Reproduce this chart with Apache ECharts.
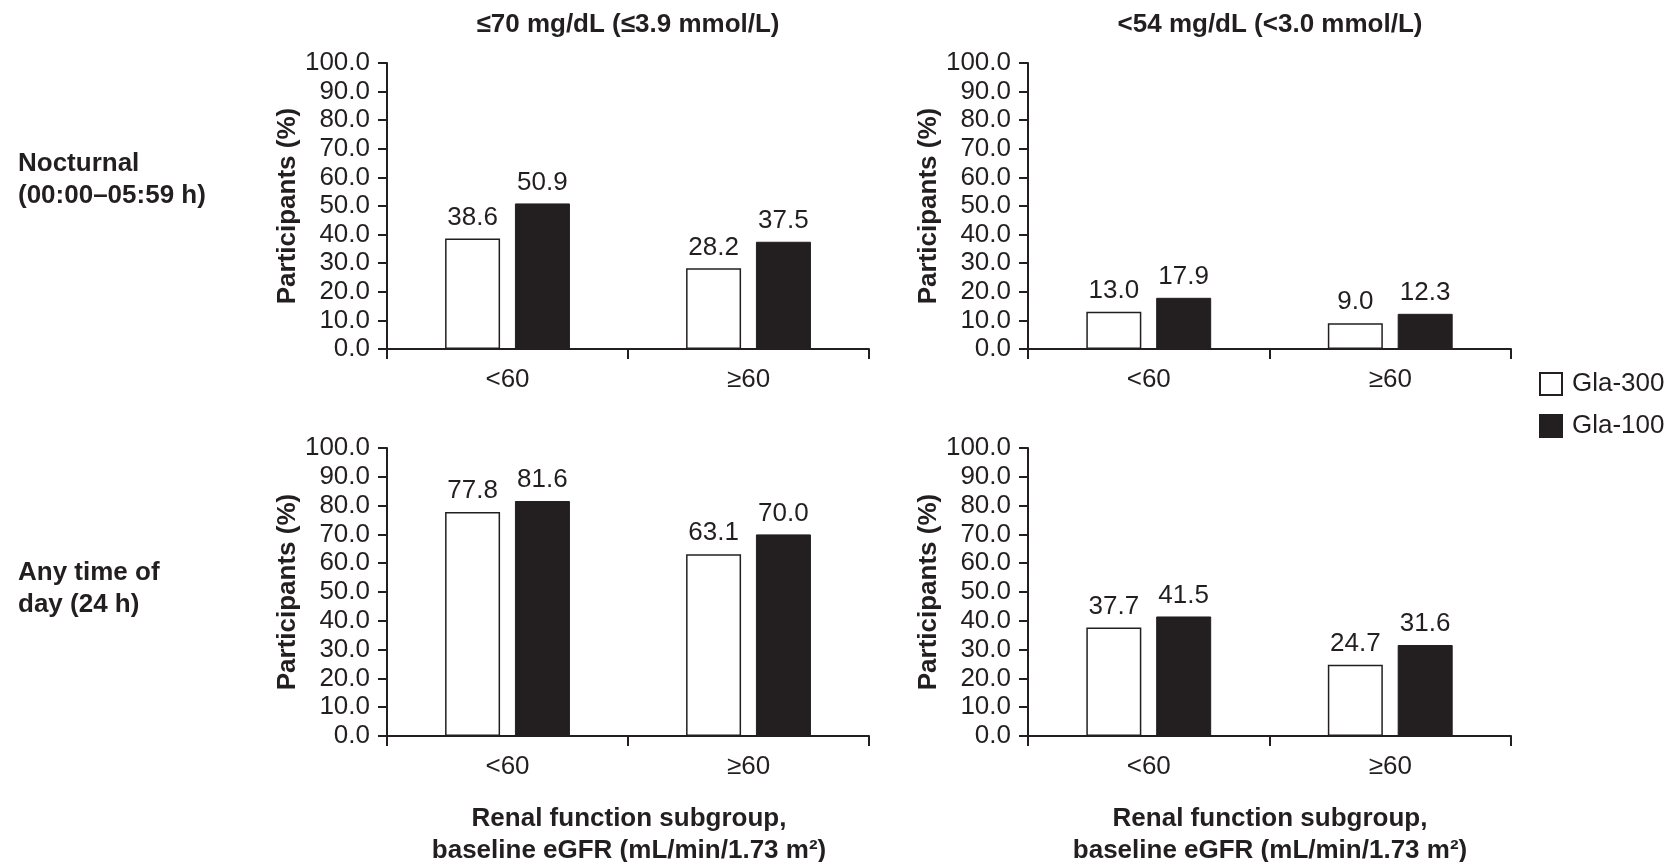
<!DOCTYPE html>
<html>
<head>
<meta charset="utf-8">
<title>Hypoglycaemia by renal function subgroup</title>
<script src="https://cdn.jsdelivr.net/npm/echarts@6/dist/echarts.min.js"></script>
<style>
  html, body { margin: 0; padding: 0; background: #ffffff; }
  #chart { width: 1671px; height: 862px; }
</style>
</head>
<body>
<div id="chart"></div>
<script>
// Renal function subgroups (baseline eGFR)
const categories = ['<60', '≥60'];
const seriesNames = ['Gla-300', 'Gla-100'];

// Nocturnal, ≤70 mg/dL
const nocturnal70Gla300 = [38.6, 28.2];
const nocturnal70Gla100 = [50.9, 37.5];
// Nocturnal, <54 mg/dL
const nocturnal54Gla300 = [13.0, 9.0];
const nocturnal54Gla100 = [17.9, 12.3];
// Any time of day, ≤70 mg/dL
const anytime70Gla300 = [77.8, 63.1];
const anytime70Gla100 = [81.6, 70.0];
// Any time of day, <54 mg/dL
const anytime54Gla300 = [37.7, 24.7];
const anytime54Gla100 = [41.5, 31.6];

const columnTitles = ['≤70 mg/dL (≤3.9 mmol/L)', '<54 mg/dL (<3.0 mmol/L)'];
const rowTitles = ['Nocturnal\n(00:00–05:59 h)', 'Any time of\nday (24 h)'];
const yAxisTitle = 'Participants (%)';
const xAxisTitle = 'Renal function subgroup,\nbaseline eGFR (mL/min/1.73 m²)';

const INK = '#231f20';
const SANS = '"Liberation Sans", Arial, Helvetica, sans-serif';
const NARROW = '"Liberation Sans Narrow", "Arial Narrow", "Liberation Sans", sans-serif';

const panels = [
  { grid: { left: 387, top: 63, width: 482, height: 286 }, data: [nocturnal70Gla300, nocturnal70Gla100], font: SANS },
  { grid: { left: 1028, top: 63, width: 483, height: 286 }, data: [nocturnal54Gla300, nocturnal54Gla100], font: NARROW },
  { grid: { left: 387, top: 448, width: 482, height: 288 }, data: [anytime70Gla300, anytime70Gla100], font: SANS },
  { grid: { left: 1028, top: 448, width: 483, height: 288 }, data: [anytime54Gla300, anytime54Gla100], font: NARROW }
];

const grids = [], xAxes = [], yAxes = [], series = [];
panels.forEach((p, i) => {
  grids.push(Object.assign({ containLabel: false }, p.grid));
  xAxes.push({
    type: 'category', gridIndex: i, data: categories,
    axisLine: { lineStyle: { color: INK, width: 2 } },
    axisTick: { show: true, alignWithLabel: false, length: 10, lineStyle: { color: INK, width: 2 } },
    axisLabel: { color: INK, fontSize: 26, fontFamily: p.font, margin: 18 },
    splitLine: { show: false }
  });
  yAxes.push({
    type: 'value', gridIndex: i, min: 0, max: 100, interval: 10,
    name: yAxisTitle, nameLocation: 'middle', nameRotate: 90, nameGap: 86,
    nameTextStyle: { color: INK, fontSize: 26, fontWeight: 'bold', fontFamily: SANS },
    axisLine: { show: true, lineStyle: { color: INK, width: 2 } },
    axisTick: { show: true, length: 9, lineStyle: { color: INK, width: 2 } },
    axisLabel: { color: INK, fontSize: 26, fontFamily: p.font, margin: 17, formatter: v => v.toFixed(1) },
    splitLine: { show: false }
  });
  p.data.forEach((vals, s) => {
    series.push({
      type: 'bar', name: seriesNames[s], xAxisIndex: i, yAxisIndex: i,
      data: vals, barWidth: 55, barGap: '27%',
      itemStyle: s === 0
        ? { color: '#ffffff', borderColor: INK, borderWidth: 1.5 }
        : { color: INK, borderColor: INK, borderWidth: 1 },
      label: {
        show: true, position: 'top', distance: 8,
        color: INK, fontSize: 26, fontFamily: p.font,
        formatter: d => d.value.toFixed(1)
      },
      emphasis: { disabled: true },
      animation: false
    });
  });
});

function textEl(x, y, text, font, align) {
  return {
    type: 'text', x: x, y: y, silent: true,
    style: {
      text: text, font: font, fill: INK,
      align: align, verticalAlign: 'middle',
      textAlign: align, textVerticalAlign: 'middle',
      lineHeight: 32
    }
  };
}

const graphics = [
  textEl(628, 25, columnTitles[0], 'bold 26px ' + SANS, 'center'),
  textEl(1270, 25, columnTitles[1], 'bold 26px ' + NARROW, 'center'),
  textEl(18, 180, rowTitles[0], 'bold 26px ' + SANS, 'left'),
  textEl(18, 589, rowTitles[1], 'bold 26px ' + SANS, 'left'),
  textEl(629, 835, xAxisTitle, 'bold 26px ' + SANS, 'center'),
  textEl(1270, 835, xAxisTitle, 'bold 26px ' + SANS, 'center')
];

const chart = echarts.init(document.getElementById('chart'), null, { renderer: 'canvas' });
chart.setOption({
  animation: false,
  backgroundColor: '#ffffff',
  textStyle: { fontFamily: SANS, color: INK },
  legend: {
    data: seriesNames,
    orient: 'vertical', left: 1534, top: 366,
    itemWidth: 22, itemHeight: 22, itemGap: 16,
    icon: 'rect',
    textStyle: { color: INK, fontSize: 26, fontFamily: SANS, padding: [0, 0, 0, 5] },
    selectedMode: false
  },
  grid: grids,
  xAxis: xAxes,
  yAxis: yAxes,
  series: series,
  graphic: graphics
});
</script>
</body>
</html>
